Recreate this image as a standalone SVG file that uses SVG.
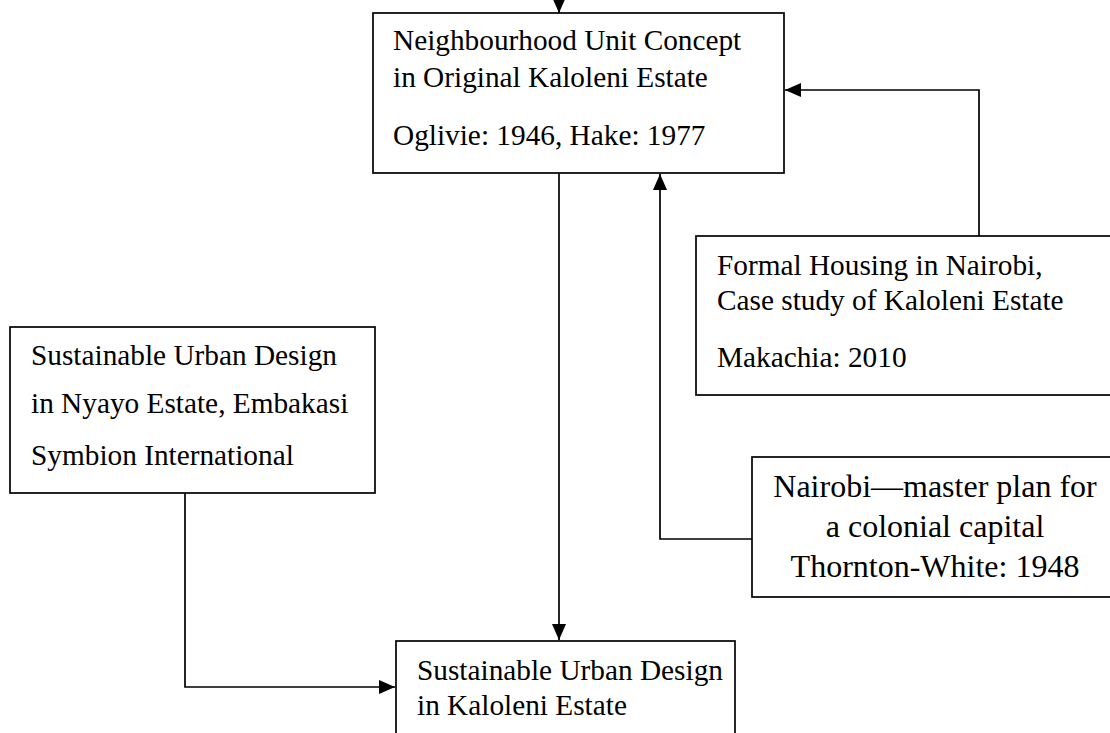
<svg xmlns="http://www.w3.org/2000/svg" width="1110" height="733" viewBox="0 0 1110 733">
<style>
.box{fill:#fff;stroke:#000;stroke-width:1.7}
.t{font-family:"Liberation Serif","Times New Roman",serif;font-size:29.3px;fill:#000}
.tl{font-family:"Liberation Serif","Times New Roman",serif;font-size:32px;fill:#000;text-anchor:middle}
.c{fill:none;stroke:#000;stroke-width:1.7}
</style>
<defs>
<marker id="ah" markerUnits="userSpaceOnUse" markerWidth="16" markerHeight="14" refX="16" refY="7" orient="auto">
<path d="M0,0 L16,7 L0,14 z" fill="#000"/>
</marker>
</defs>
<rect width="1110" height="733" fill="#fff"/>
<g id="connectors">
<path class="c" d="M559,-5 V13" marker-end="url(#ah)"/>
<path class="c" d="M559,173 V640" marker-end="url(#ah)"/>
<path class="c" d="M979,236 V90 H785" marker-end="url(#ah)"/>
<path class="c" d="M752,539 H660 V174" marker-end="url(#ah)"/>
<path class="c" d="M185,493 V687 H395" marker-end="url(#ah)"/>
</g>
<g id="node-neighbourhood">
<rect class="box" x="373" y="13" width="411" height="160"/>
<text class="t" x="393" y="50">Neighbourhood Unit Concept</text>
<text class="t" x="393" y="87">in Original Kaloleni Estate</text>
<text class="t" x="393" y="145">Oglivie: 1946, Hake: 1977</text>
</g>
<g id="node-formal">
<rect class="box" x="696" y="236" width="420" height="159"/>
<text class="t" x="717" y="275">Formal Housing in Nairobi,</text>
<text class="t" x="717" y="310">Case study of Kaloleni Estate</text>
<text class="t" x="717" y="367">Makachia: 2010</text>
</g>
<g id="node-nyayo">
<rect class="box" x="10" y="327" width="365" height="166"/>
<text class="t" x="31" y="365">Sustainable Urban Design</text>
<text class="t" x="31" y="413">in Nyayo Estate, Embakasi</text>
<text class="t" x="31" y="465">Symbion International</text>
</g>
<g id="node-nairobi">
<rect class="box" x="752" y="457" width="366" height="140"/>
<text class="tl" x="935" y="497">Nairobi—master plan for</text>
<text class="tl" x="935" y="537">a colonial capital</text>
<text class="tl" x="935" y="577">Thornton-White: 1948</text>
</g>
<g id="node-kaloleni">
<rect class="box" x="396" y="641" width="339" height="100"/>
<text class="t" x="417" y="680">Sustainable Urban Design</text>
<text class="t" x="417" y="715">in Kaloleni Estate</text>
</g>
</svg>
